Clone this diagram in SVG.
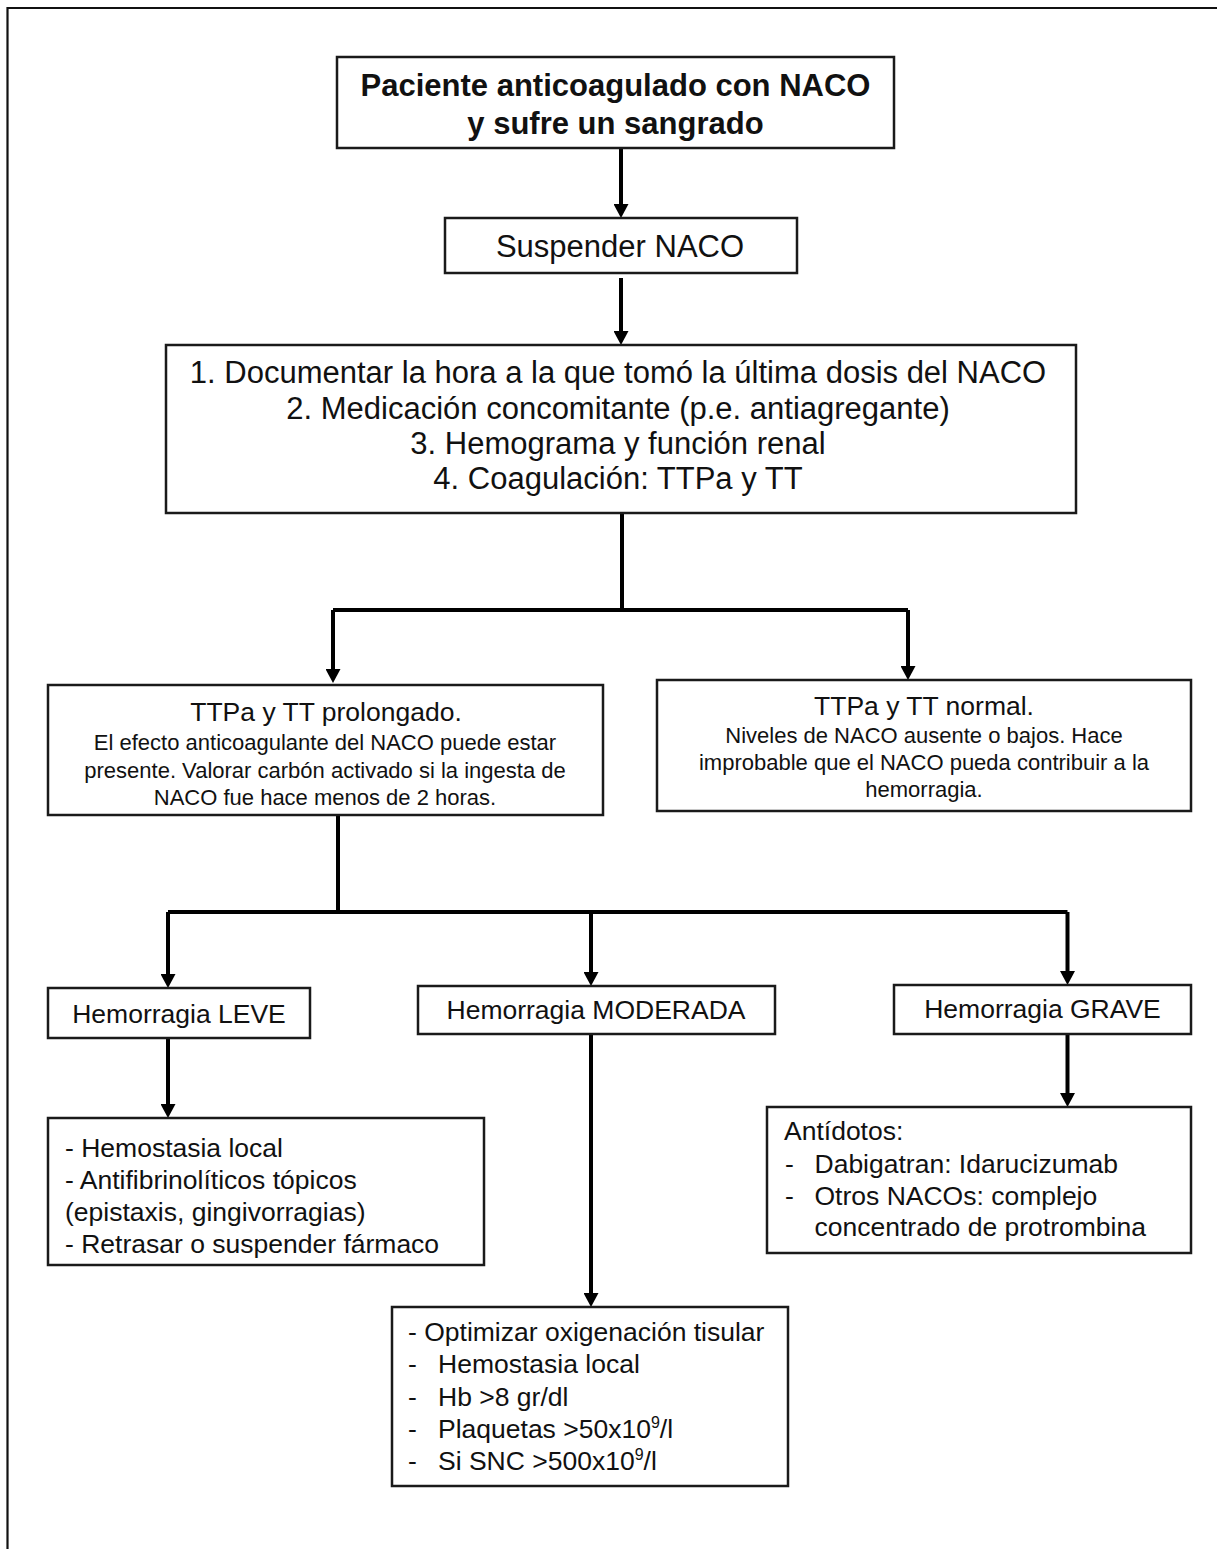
<svg xmlns="http://www.w3.org/2000/svg" width="1217" height="1549" viewBox="0 0 1217 1549">
  <defs>
    <marker id="arrow" markerUnits="userSpaceOnUse" viewBox="0 0 14 15" markerWidth="14" markerHeight="15" refX="4" refY="7.5" orient="auto">
      <path d="M0,0 L14,7.5 L0,15 z" fill="#000"/>
    </marker>
  </defs>
  <style>
    text { font-family: "Liberation Sans", Arial, Helvetica, sans-serif; fill: #111; }
    .box { fill: #fff; stroke: #1a1a1a; stroke-width: 2.5; }
    .frame { fill: none; stroke: #111; stroke-width: 2.2; }
    .wire { fill: none; stroke: #000; stroke-width: 4; }
    .arr { marker-end: url(#arrow); }
    .c { text-anchor: middle; }
    .bold { font-weight: bold; font-size: 31px; }
    .big { font-size: 31px; }
    .mid { font-size: 26.5px; }
    .small { font-size: 22px; }
    .sup { font-size: 16px; }
  </style>

  <rect width="1217" height="1549" fill="#fff"/>

  <!-- page frame: top and left edges -->
  <path class="frame" d="M7.5,1549 V8 H1217"/>

  <!-- connectors -->
  <g id="connectors">
    <path class="wire arr" d="M621,148 V208"/>
    <path class="wire arr" d="M621,278 V335"/>
    <path class="wire" d="M622,513 V610"/>
    <path class="wire" d="M333,610 H908"/>
    <path class="wire arr" d="M333,610 V673"/>
    <path class="wire arr" d="M908,610 V670"/>
    <path class="wire" d="M338,815 V912"/>
    <path class="wire" d="M168,912 H1067.5"/>
    <path class="wire arr" d="M168,912 V978"/>
    <path class="wire arr" d="M591,912 V976"/>
    <path class="wire arr" d="M1067.5,912 V975"/>
    <path class="wire arr" d="M168,1038 V1108"/>
    <path class="wire arr" d="M591,1034 V1297"/>
    <path class="wire arr" d="M1067.5,1034 V1097"/>
  </g>

  <g id="start">
    <rect class="box" x="337" y="57" width="557" height="91"/>
    <text class="c bold" x="615.5" y="96">Paciente anticoagulado con NACO</text>
    <text class="c bold" x="615.5" y="134">y sufre un sangrado</text>
  </g>

  <g id="suspend">
    <rect class="box" x="445" y="218" width="352" height="55"/>
    <text class="c big" x="620" y="257">Suspender NACO</text>
  </g>

  <g id="checks">
    <rect class="box" x="166" y="345" width="910" height="168"/>
    <text class="c big" x="618" y="383">1. Documentar la hora a la que tomó la última dosis del NACO</text>
    <text class="c big" x="618" y="419">2. Medicación concomitante (p.e. antiagregante)</text>
    <text class="c big" x="618" y="454">3. Hemograma y función renal</text>
    <text class="c big" x="618" y="489">4. Coagulación: TTPa y TT</text>
  </g>

  <g id="prolonged">
    <rect class="box" x="48" y="685" width="555" height="130"/>
    <text class="c mid" x="326" y="721">TTPa y TT prolongado.</text>
    <text class="c small" x="325" y="750">El efecto anticoagulante del NACO puede estar</text>
    <text class="c small" x="325" y="778">presente. Valorar carbón activado si la ingesta de</text>
    <text class="c small" x="325" y="805">NACO fue hace menos de 2 horas.</text>
  </g>

  <g id="normal">
    <rect class="box" x="657" y="680" width="534" height="131"/>
    <text class="c mid" x="924" y="715">TTPa y TT normal.</text>
    <text class="c small" x="924" y="743">Niveles de NACO ausente o bajos. Hace</text>
    <text class="c small" x="924" y="770">improbable que el NACO pueda contribuir a la</text>
    <text class="c small" x="924" y="797">hemorragia.</text>
  </g>

  <g id="mild">
    <rect class="box" x="48" y="988" width="262" height="50"/>
    <text class="c mid" x="179" y="1023">Hemorragia LEVE</text>
  </g>

  <g id="moderate">
    <rect class="box" x="418" y="986" width="357" height="48"/>
    <text class="c mid" x="596" y="1019">Hemorragia MODERADA</text>
  </g>

  <g id="severe">
    <rect class="box" x="894" y="985" width="297" height="49"/>
    <text class="c mid" x="1042.5" y="1018">Hemorragia GRAVE</text>
  </g>

  <g id="mild-actions">
    <rect class="box" x="48" y="1118" width="436" height="147"/>
    <text class="mid" x="65" y="1157">- Hemostasia local</text>
    <text class="mid" x="65" y="1189">- Antifibrinolíticos tópicos</text>
    <text class="mid" x="65" y="1221">(epistaxis, gingivorragias)</text>
    <text class="mid" x="65" y="1253">- Retrasar o suspender fármaco</text>
  </g>

  <g id="severe-actions">
    <rect class="box" x="767" y="1107" width="424" height="146"/>
    <text class="mid" x="784" y="1140">Antídotos:</text>
    <text class="mid" x="785" y="1173">-</text>
    <text class="mid" x="814.5" y="1173">Dabigatran: Idarucizumab</text>
    <text class="mid" x="785" y="1205">-</text>
    <text class="mid" x="814.5" y="1205">Otros NACOs: complejo</text>
    <text class="mid" x="814.5" y="1236">concentrado de protrombina</text>
  </g>

  <g id="moderate-actions">
    <rect class="box" x="392" y="1307" width="396" height="179"/>
    <text class="mid" x="408" y="1341">- Optimizar oxigenación tisular</text>
    <text class="mid" x="408" y="1373">-</text>
    <text class="mid" x="438" y="1373">Hemostasia local</text>
    <text class="mid" x="408" y="1405.5">-</text>
    <text class="mid" x="438" y="1405.5">Hb &gt;8 gr/dl</text>
    <text class="mid" x="408" y="1437.5">-</text>
    <text class="mid" x="438" y="1437.5">Plaquetas &gt;50x10<tspan class="sup" dy="-10">9</tspan><tspan dy="10">/l</tspan></text>
    <text class="mid" x="408" y="1470">-</text>
    <text class="mid" x="438" y="1470">Si SNC &gt;500x10<tspan class="sup" dy="-10">9</tspan><tspan dy="10">/l</tspan></text>
  </g>
</svg>
